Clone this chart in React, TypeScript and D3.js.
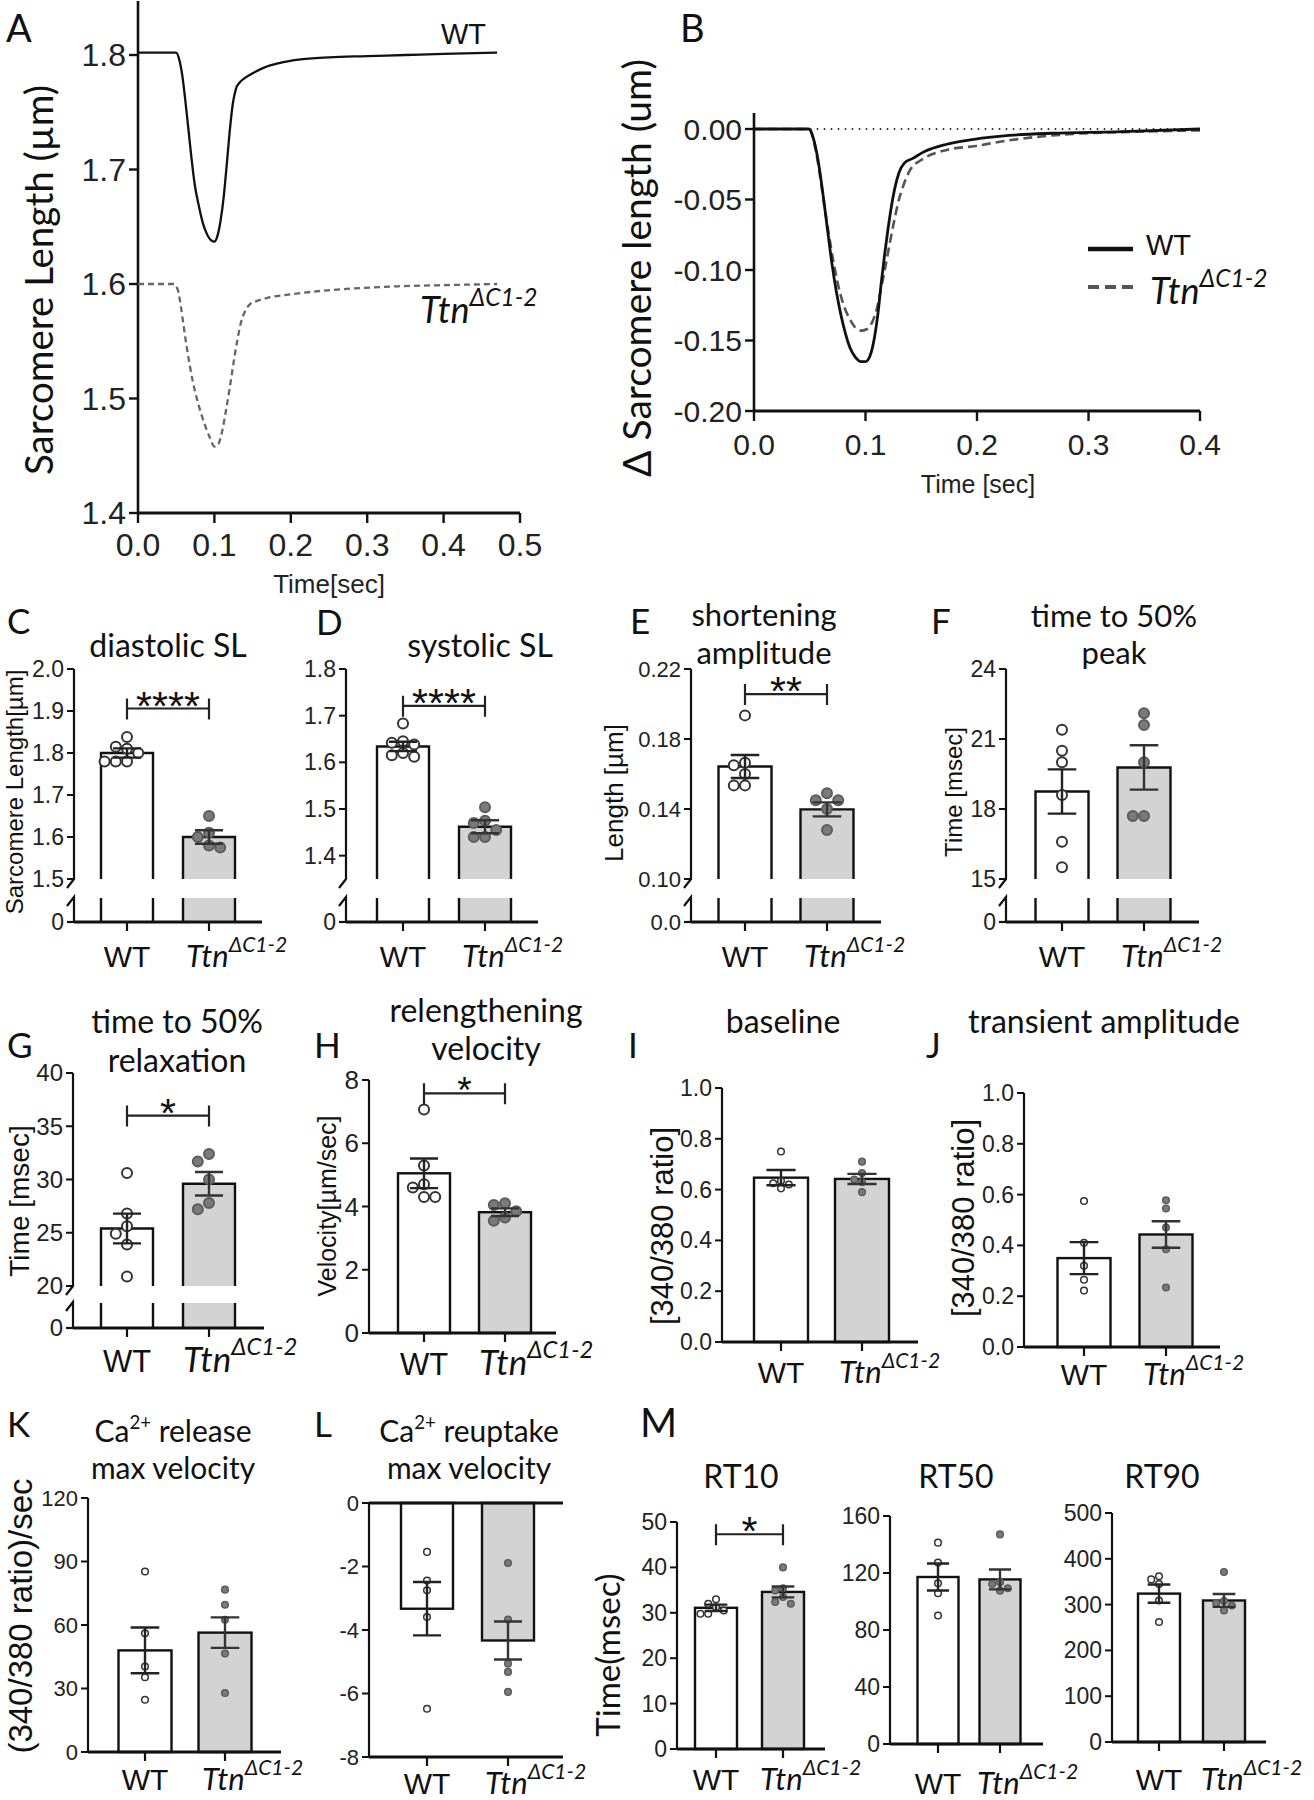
import React from 'react';
import * as d3 from 'd3';

const SANS = "'Liberation Sans', Arial, Helvetica, sans-serif";
const HUM = "Lato, 'Open Sans', 'Noto Sans', sans-serif";
const INK = '#111';

// ---------------- Panel A: sarcomere length traces ----------------
const aTimeWT = [0, 0.05, 0.054, 0.058, 0.062, 0.066, 0.070, 0.074, 0.080, 0.085, 0.090, 0.096, 0.100, 0.104, 0.108, 0.112, 0.116, 0.120, 0.124, 0.128, 0.133, 0.140, 0.150, 0.165, 0.185, 0.210, 0.250, 0.300, 0.350, 0.400, 0.470];
const aSLWT = [1.802, 1.802, 1.796, 1.782, 1.760, 1.735, 1.710, 1.688, 1.667, 1.653, 1.644, 1.638, 1.637, 1.642, 1.655, 1.675, 1.703, 1.733, 1.757, 1.770, 1.776, 1.780, 1.784, 1.789, 1.793, 1.796, 1.798, 1.799, 1.800, 1.801, 1.802];
const aTimeKO = [0, 0.047, 0.052, 0.056, 0.060, 0.064, 0.068, 0.072, 0.077, 0.083, 0.088, 0.094, 0.100, 0.105, 0.110, 0.115, 0.120, 0.125, 0.130, 0.135, 0.140, 0.146, 0.155, 0.170, 0.200, 0.240, 0.280, 0.340, 0.400, 0.470];
const aSLKO = [1.600, 1.600, 1.595, 1.581, 1.562, 1.544, 1.528, 1.514, 1.500, 1.486, 1.476, 1.466, 1.458, 1.460, 1.471, 1.489, 1.509, 1.531, 1.551, 1.567, 1.576, 1.582, 1.585, 1.588, 1.591, 1.594, 1.596, 1.598, 1.599, 1.600];
const aXTicks = [0, 0.1, 0.2, 0.3, 0.4, 0.5];
const aYTicks = [1.4, 1.5, 1.6, 1.7, 1.8];

// ---------------- Panel B: delta sarcomere length ----------------
const bTimeWT = [0, 0.049, 0.053, 0.057, 0.0625, 0.066, 0.070, 0.074, 0.078, 0.082, 0.086, 0.091, 0.096, 0.100, 0.104, 0.108, 0.111, 0.114, 0.117, 0.120, 0.123, 0.126, 0.130, 0.135, 0.142, 0.153, 0.172, 0.191, 0.222, 0.267, 0.324, 0.400];
const bDeltaWT = [0, 0, -0.006, -0.02, -0.05, -0.072, -0.096, -0.116, -0.132, -0.145, -0.155, -0.162, -0.165, -0.165, -0.161, -0.148, -0.132, -0.11, -0.09, -0.072, -0.056, -0.043, -0.031, -0.024, -0.021, -0.016, -0.011, -0.008, -0.005, -0.003, -0.002, 0];
const bTimeKO = [0, 0.05, 0.054, 0.059, 0.063, 0.067, 0.071, 0.075, 0.080, 0.086, 0.091, 0.096, 0.101, 0.106, 0.110, 0.114, 0.118, 0.122, 0.126, 0.130, 0.134, 0.140, 0.150, 0.172, 0.199, 0.229, 0.286, 0.340, 0.400];
const bDeltaKO = [0, 0, -0.01, -0.032, -0.054, -0.074, -0.093, -0.109, -0.124, -0.135, -0.141, -0.143, -0.142, -0.137, -0.128, -0.113, -0.097, -0.080, -0.064, -0.050, -0.040, -0.029, -0.022, -0.015, -0.012, -0.008, -0.0035, -0.002, -0.001];
const bXTicks = [0, 0.1, 0.2, 0.3, 0.4];
const bYTicks = [0, -0.05, -0.1, -0.15, -0.2];

// ---------------- Bar panels (WT, TtnΔC1-2) ----------------
const diastolicMean = [1.80, 1.60];
const diastolicSem = [0.011, 0.016];
const diastolicWT = [1.838, 1.815, 1.81, 1.80, 1.78, 1.78, 1.78];
const diastolicKO = [1.65, 1.61, 1.60, 1.58, 1.575];
const diastolicTicks = [1.5, 1.6, 1.7, 1.8, 1.9, 2.0];

const systolicMean = [1.634, 1.462];
const systolicSem = [0.01, 0.014];
const systolicWT = [1.683, 1.645, 1.642, 1.638, 1.62, 1.615, 1.612];
const systolicKO = [1.504, 1.475, 1.47, 1.455, 1.44, 1.44];
const systolicTicks = [1.4, 1.5, 1.6, 1.7, 1.8];

const shortMean = [0.1643, 0.1398];
const shortSem = [0.0066, 0.004];
const shortWT = [0.1935, 0.1665, 0.165, 0.160, 0.1535, 0.1535];
const shortKO = [0.149, 0.145, 0.145, 0.140, 0.128];
const shortTicks = [0.10, 0.14, 0.18, 0.22];

const peakMean = [18.75, 19.78];
const peakSem = [0.95, 0.95];
const peakWT = [21.4, 20.5, 20.0, 18.6, 16.6, 15.5];
const peakKO = [22.1, 21.6, 20.0, 17.7, 17.7];
const peakTicks = [15, 18, 21, 24];

const relaxMean = [25.4, 29.6];
const relaxSem = [1.4, 1.1];
const relaxWT = [30.6, 26.8, 25.6, 24.9, 23.9, 20.9];
const relaxKO = [32.4, 31.7, 30.0, 27.8, 27.2];
const relaxTicks = [20, 25, 30, 35, 40];

const velMean = [5.05, 3.82];
const velSem = [0.47, 0.12];
const velWT = [7.07, 5.3, 4.7, 4.6, 4.3, 4.3];
const velKO = [4.1, 4.05, 3.85, 3.65, 3.55];
const velTicks = [0, 2, 4, 6, 8];

const baseMean = [0.647, 0.642];
const baseSem = [0.03, 0.02];
const baseWT = [0.75, 0.635, 0.625, 0.62, 0.605];
const baseKO = [0.71, 0.665, 0.64, 0.63, 0.59];
const ratioTicks = [0, 0.2, 0.4, 0.6, 0.8, 1.0];

const ampMean = [0.35, 0.443];
const ampSem = [0.063, 0.052];
const ampWT = [0.575, 0.41, 0.32, 0.265, 0.222];
const ampKO = [0.578, 0.545, 0.47, 0.385, 0.234];

const releaseMean = [48.0, 56.4];
const releaseSem = [10.8, 7.2];
const releaseWT = [85.3, 56.1, 40.4, 35.3, 24.7];
const releaseKO = [76.7, 69.6, 62.5, 46.5, 27.9];
const releaseTicks = [0, 30, 60, 90, 120];

const reuptakeMean = [-3.33, -4.33];
const reuptakeSem = [0.84, 0.6];
const reuptakeWT = [-1.54, -2.44, -2.75, -3.59, -6.48];
const reuptakeKO = [-1.89, -3.67, -5.06, -5.32, -5.95];
const reuptakeTicks = [-8, -6, -4, -2, 0];

const rt10Mean = [31.1, 34.6];
const rt10Sem = [0.7, 1.2];
const rt10WT = [33.0, 32.0, 31.2, 30.5, 29.8, 29.8];
const rt10KO = [40.0, 35.4, 34.9, 33.5, 32.4, 32.0];
const rt10Ticks = [0, 10, 20, 30, 40, 50];

const rt50Mean = [117.2, 115.5];
const rt50Sem = [9.5, 7.0];
const rt50WT = [141.3, 127.3, 112.8, 105.8, 90.2];
const rt50KO = [147.1, 113.5, 112.3, 109.3, 107.6];
const rt50Ticks = [0, 40, 80, 120, 160];

const rt90Mean = [324, 309];
const rt90Sem = [20, 14];
const rt90WT = [362, 355, 345, 309, 262];
const rt90KO = [371, 308, 303, 298, 287];
const rt90Ticks = [0, 100, 200, 300, 400, 500];

// ---------------- helpers ----------------
function KOLabel({ x, y, size, center = true }: any) {
  const x0 = center ? x - 0.74 * size : x;
  return (
    <text x={x0} y={y} fontFamily={HUM} fontStyle="italic" fontSize={size} fill={INK}>
      Ttn<tspan dy={-0.48 * size} fontSize={size * 0.68}>ΔC1-2</tspan>
    </text>
  );
}

function TitleLine({ x, y, s, size }: any) {
  if (s.startsWith('Ca2+')) {
    return (
      <text x={x} y={y} textAnchor="middle" fontFamily={HUM} fontSize={size} fill={INK}>
        Ca<tspan dy={-0.42 * size} fontSize={size * 0.62}>2+</tspan>
        <tspan dy={0.42 * size}>{s.slice(4)}</tspan>
      </text>
    );
  }
  return (
    <text x={x} y={y} textAnchor="middle" fontFamily={HUM} fontSize={size} fill={INK}>{s}</text>
  );
}

function dodge(vals: number[], y: any, cx: number, r: number) {
  const placed: { x: number; y: number }[] = [];
  const step = 2 * r + 1.2;
  const order = [0, -1, 1, -2, 2, -3, 3];
  vals.forEach((v) => {
    const py = y(v);
    let px = cx;
    for (const o of order) {
      const cand = cx + o * step;
      const hit = placed.some((p) => Math.hypot(p.x - cand, p.y - py) < 2 * r + 0.8);
      if (!hit) { px = cand; break; }
    }
    placed.push({ x: px, y: py });
  });
  return placed;
}

const fmt = (dec: number) => (v: number) => (Math.abs(v) < 1e-9 ? 0 : v).toFixed(dec);

function BarPanel({ p }: any) {
  const broken = p.yBrk !== undefined;
  const lo = p.dom[0], hi = p.dom[1];
  const y = d3.scaleLinear().domain(p.dom).range([broken ? p.yBrk : p.yZero, p.yTop]);
  const base = broken ? lo : (lo <= 0 && hi >= 0 ? 0 : lo);
  const fills = ['#ffffff', '#d3d3d3'];
  const sw = 2.4;
  const ax = p.ax;
  const f = fmt(p.dec);
  const els: any[] = [];

  p.c.forEach((cx: number, i: number) => {
    const x0 = cx - p.bw / 2, x1 = cx + p.bw / 2;
    const ym = y(p.mean[i]);
    if (broken) {
      els.push(<rect key={'bf' + i} x={x0} y={ym} width={p.bw} height={p.yBrk - ym} fill={fills[i]} />);
      els.push(<path key={'bo' + i} d={`M${x0},${p.yBrk}V${ym}H${x1}V${p.yBrk}`} fill="none" stroke={INK} strokeWidth={sw} />);
      els.push(<rect key={'lf' + i} x={x0} y={p.yLow} width={p.bw} height={p.yZero - p.yLow} fill={fills[i]} />);
      els.push(<path key={'lo' + i} d={`M${x0},${p.yLow}V${p.yZero}M${x1},${p.yLow}V${p.yZero}`} fill="none" stroke={INK} strokeWidth={sw} />);
    } else {
      const yb = y(base);
      els.push(<rect key={'b' + i} x={x0} y={Math.min(ym, yb)} width={p.bw} height={Math.abs(yb - ym)} fill={fills[i]} stroke={INK} strokeWidth={sw} />);
    }
  });

  p.pts.forEach((vals: number[], i: number) => {
    const pos = dodge(vals, y, p.c[i], p.r);
    pos.forEach((q, j) => {
      els.push(
        <circle key={'p' + i + '_' + j} cx={q.x} cy={q.y} r={p.r}
          fill={i === 0 ? '#fff' : '#7a7a7a'} stroke={i === 0 ? '#333' : '#5c5c5c'}
          strokeWidth={p.r > 4 ? 2 : 1.5} />
      );
    });
  });

  p.c.forEach((cx: number, i: number) => {
    const m = p.mean[i], s = p.sem[i];
    const hw = p.bw * 0.27;
    const col = i === 0 ? '#222' : '#333';
    els.push(
      <path key={'e' + i}
        d={`M${cx},${y(m - s)}V${y(m + s)}M${cx - hw},${y(m + s)}H${cx + hw}M${cx - hw},${y(m - s)}H${cx + hw}`}
        fill="none" stroke={col} strokeWidth={2.4} />
    );
  });

  if (broken) {
    els.push(<path key="ya" d={`M${ax},${p.yTop}V${p.yBrk}L${ax - 7},${p.yBrk + 9}`} fill="none" stroke={INK} strokeWidth={2.2} />);
    els.push(<path key="yb" d={`M${ax - 7},${p.yLow + 8}L${ax},${p.yLow - 1}V${p.yZero}`} fill="none" stroke={INK} strokeWidth={2.2} />);
    els.push(<line key="z0" x1={ax - 7} x2={ax} y1={p.yZero} y2={p.yZero} stroke={INK} strokeWidth={2.2} />);
    els.push(<text key="zl" x={ax - 10} y={p.yZero} dy="0.35em" textAnchor="end" fontFamily={SANS} fontSize={p.tickSize} fill="#222">{p.lowLab}</text>);
  } else {
    els.push(<line key="ya" x1={ax} x2={ax} y1={p.yTop} y2={p.yZero} stroke={INK} strokeWidth={2.2} />);
  }
  p.ticks.forEach((t: number) => {
    els.push(<line key={'t' + t} x1={ax - 7} x2={ax} y1={y(t)} y2={y(t)} stroke={INK} strokeWidth={2} />);
    els.push(<text key={'tl' + t} x={ax - 10} y={y(t)} dy="0.35em" textAnchor="end" fontFamily={SANS} fontSize={p.tickSize} fill="#222">{f(t)}</text>);
  });

  els.push(<line key="xa" x1={ax} x2={p.end} y1={p.yZero} y2={p.yZero} stroke={INK} strokeWidth={2.8} />);
  if (hi === 0) {
    els.push(<line key="x0" x1={ax} x2={p.end} y1={y(0)} y2={y(0)} stroke={INK} strokeWidth={2.8} />);
  }
  p.c.forEach((cx: number, i: number) => {
    els.push(<line key={'xt' + i} x1={cx} x2={cx} y1={p.yZero} y2={p.yZero + 9} stroke={INK} strokeWidth={2.2} />);
  });

  if (p.sig) {
    const yl = y(p.sig.v);
    const [c1, c2] = p.c;
    const ss = p.sig.size || 41;
    els.push(<path key="sg" d={`M${c1},${yl - 10}V${yl + 11}M${c1},${yl}H${c2}M${c2},${yl - 10}V${yl + 11}`} fill="none" stroke="#222" strokeWidth={2.2} />);
    els.push(<text key="st" x={(c1 + c2) / 2} y={yl + ss * 0.27} textAnchor="middle" fontFamily={SANS} fontSize={ss} fill={INK}>{p.sig.t}</text>);
  }

  els.push(<text key="wt" x={p.c[0]} y={p.labY} textAnchor="middle" fontFamily={SANS} fontSize={p.wtSize} fill={INK}>WT</text>);
  els.push(<KOLabel key="ko" x={p.c[1]} y={p.labY} size={p.koSize} />);

  if (p.letter) {
    els.push(<text key="L" x={p.lx} y={p.ly} fontFamily={HUM} fontSize={p.letterSize || 35} fill={INK}>{p.letter}</text>);
  }
  p.title.forEach((s: string, i: number) => {
    els.push(<TitleLine key={'ti' + i} x={p.tx} y={p.ty[i]} s={s} size={p.titleSize || 32} />);
  });
  if (p.ylab) {
    els.push(
      <text key="yl" transform={`translate(${p.ylx},${p.yly}) rotate(-90)`} textAnchor="middle" dy="0.35em"
        fontFamily={p.ylfont || SANS} fontSize={p.ylsize} fill={INK}>{p.ylab}</text>
    );
  }
  return <g>{els}</g>;
}

const ROW2 = { yTop: 669, yBrk: 879, yLow: 898, yZero: 922, labY: 967 };

const barPanels: any[] = [
  { letter: 'C', lx: 7, ly: 634, title: ['diastolic SL'], tx: 168, ty: [657],
    ylab: 'Sarcomere Length[µm]', ylx: 15, yly: 792, ylsize: 24,
    ax: 74, end: 262, c: [127, 209], bw: 52, ...ROW2, dom: [1.5, 2.0], ticks: diastolicTicks, dec: 1, lowLab: '0',
    mean: diastolicMean, sem: diastolicSem, pts: [diastolicWT, diastolicKO], r: 5, sig: { v: 1.906, t: '****' },
    wtSize: 30, koSize: 31, tickSize: 23 },
  { letter: 'D', lx: 316, ly: 635, title: ['systolic SL'], tx: 480, ty: [657],
    ax: 346, end: 538, c: [403, 485], bw: 52, ...ROW2, dom: [1.35, 1.8], ticks: systolicTicks, dec: 1, lowLab: '0',
    mean: systolicMean, sem: systolicSem, pts: [systolicWT, systolicKO], r: 5, sig: { v: 1.721, t: '****' },
    wtSize: 30, koSize: 31, tickSize: 23 },
  { letter: 'E', lx: 630, ly: 634, title: ['shortening', 'amplitude'], titleSize: 31, tx: 764, ty: [626, 664],
    ylab: 'Length [µm]', ylx: 614, yly: 793, ylsize: 26,
    ax: 691, end: 881, c: [745, 827], bw: 53, ...ROW2, dom: [0.10, 0.22], ticks: shortTicks, dec: 2, lowLab: '0.0',
    mean: shortMean, sem: shortSem, pts: [shortWT, shortKO], r: 5, sig: { v: 0.2057, t: '**' },
    wtSize: 30, koSize: 31, tickSize: 22 },
  { letter: 'F', lx: 931, ly: 634, title: ['time to 50%', 'peak'], titleSize: 31, tx: 1114, ty: [627, 664],
    ylab: 'Time [msec]', ylx: 954, yly: 792, ylsize: 24,
    ax: 1006, end: 1199, c: [1062, 1144], bw: 53, ...ROW2, dom: [15, 24], ticks: peakTicks, dec: 0, lowLab: '0',
    mean: peakMean, sem: peakSem, pts: [peakWT, peakKO], r: 5,
    wtSize: 30, koSize: 31, tickSize: 23 },
  { letter: 'G', lx: 7, ly: 1058, title: ['time to 50%', 'relaxation'], tx: 177, ty: [1033, 1072],
    ylab: 'Time [msec]', ylx: 19, yly: 1201, ylsize: 28,
    ax: 73, end: 264, c: [127, 209], bw: 52, yTop: 1073, yBrk: 1286, yLow: 1303, yZero: 1328, labY: 1372,
    dom: [20, 40], ticks: relaxTicks, dec: 0, lowLab: '0',
    mean: relaxMean, sem: relaxSem, pts: [relaxWT, relaxKO], r: 5, sig: { v: 36.0, t: '*' },
    wtSize: 31, koSize: 35, tickSize: 24 },
  { letter: 'H', lx: 314, ly: 1058, title: ['relengthening', 'velocity'], tx: 486, ty: [1022, 1060],
    ylab: 'Velocity[µm/sec]', ylx: 327, yly: 1206, ylsize: 25,
    ax: 369, end: 556, c: [424, 505], bw: 52, yTop: 1080, yZero: 1333, labY: 1375,
    dom: [0, 8], ticks: velTicks, dec: 0,
    mean: velMean, sem: velSem, pts: [velWT, velKO], r: 5, sig: { v: 7.58, t: '*', size: 37 },
    wtSize: 31, koSize: 35, tickSize: 26 },
  { letter: 'I', lx: 628, ly: 1058, title: ['baseline'], tx: 783, ty: [1033],
    ylab: '[340/380 ratio]', ylx: 662, yly: 1226, ylsize: 31,
    ax: 722, end: 918, c: [781, 862], bw: 54, yTop: 1088, yZero: 1342, labY: 1383,
    dom: [0, 1], ticks: ratioTicks, dec: 1,
    mean: baseMean, sem: baseSem, pts: [baseWT, baseKO], r: 3.3,
    wtSize: 30, koSize: 31, tickSize: 23 },
  { letter: 'J', lx: 926, ly: 1058, title: ['transient amplitude'], tx: 1104, ty: [1033],
    ylab: '[340/380 ratio]', ylx: 963, yly: 1218, ylsize: 31,
    ax: 1024, end: 1220, c: [1084, 1166], bw: 53, yTop: 1093, yZero: 1347, labY: 1385,
    dom: [0, 1], ticks: ratioTicks, dec: 1,
    mean: ampMean, sem: ampSem, pts: [ampWT, ampKO], r: 3.3,
    wtSize: 30, koSize: 31, tickSize: 23 },
  { letter: 'K', lx: 7, ly: 1437, title: ['Ca2+ release', 'max velocity'], titleSize: 30, tx: 173, ty: [1442, 1479],
    ylab: '(340/380 ratio)/sec', ylx: 20, yly: 1616, ylsize: 33,
    ax: 88, end: 281, c: [145, 225], bw: 53, yTop: 1498, yZero: 1752, labY: 1790,
    dom: [0, 120], ticks: releaseTicks, dec: 0,
    mean: releaseMean, sem: releaseSem, pts: [releaseWT, releaseKO], r: 3.3,
    wtSize: 30, koSize: 31, tickSize: 22 },
  { letter: 'L', lx: 314, ly: 1437, title: ['Ca2+ reuptake', 'max velocity'], titleSize: 30, tx: 469, ty: [1442, 1479],
    ax: 369, end: 563, c: [427, 508], bw: 52, yTop: 1503, yZero: 1757, labY: 1794,
    dom: [-8, 0], ticks: reuptakeTicks, dec: 0,
    mean: reuptakeMean, sem: reuptakeSem, pts: [reuptakeWT, reuptakeKO], r: 3.3,
    wtSize: 30, koSize: 31, tickSize: 22 },
  { letter: 'M', lx: 640, ly: 1437, letterSize: 40, title: ['RT10'], tx: 741, ty: [1488],
    ylab: 'Time(msec)', ylx: 608, yly: 1655, ylsize: 33, ylfont: HUM,
    ax: 677, end: 825, c: [716, 783], bw: 42, yTop: 1522, yZero: 1749, labY: 1790,
    dom: [0, 50], ticks: rt10Ticks, dec: 0,
    mean: rt10Mean, sem: rt10Sem, pts: [rt10WT, rt10KO], r: 3.3, sig: { v: 47.3, t: '*' },
    wtSize: 30, koSize: 31, tickSize: 23 },
  { title: ['RT50'], tx: 956, ty: [1488],
    ax: 890, end: 1043, c: [938, 1000], bw: 41, yTop: 1516, yZero: 1744, labY: 1794,
    dom: [0, 160], ticks: rt50Ticks, dec: 0,
    mean: rt50Mean, sem: rt50Sem, pts: [rt50WT, rt50KO], r: 3.3,
    wtSize: 30, koSize: 31, tickSize: 23 },
  { title: ['RT90'], tx: 1162, ty: [1488],
    ax: 1112, end: 1266, c: [1159, 1224], bw: 42, yTop: 1513, yZero: 1742, labY: 1790,
    dom: [0, 500], ticks: rt90Ticks, dec: 0,
    mean: rt90Mean, sem: rt90Sem, pts: [rt90WT, rt90KO], r: 3.3,
    wtSize: 30, koSize: 31, tickSize: 23 },
];

function PanelA() {
  const x = d3.scaleLinear().domain([0, 0.5]).range([138, 520]);
  const y = d3.scaleLinear().domain([1.4, 1.8]).range([513, 55]);
  const line = d3.line<[number, number]>().x((d) => x(d[0])).y((d) => y(d[1])).curve(d3.curveMonotoneX);
  const wt = line(d3.zip(aTimeWT, aSLWT) as any);
  const ko = line(d3.zip(aTimeKO, aSLKO) as any);
  return (
    <g>
      <text x={6} y={42} fontFamily={HUM} fontSize={38} fill={INK}>A</text>
      <line x1={x(0)} x2={x(0)} y1={1} y2={y(1.4)} stroke={INK} strokeWidth={2.6} />
      <line x1={x(0)} x2={x(0.5)} y1={y(1.4)} y2={y(1.4)} stroke={INK} strokeWidth={3} />
      {aYTicks.map((t) => (
        <g key={'ay' + t}>
          <line x1={x(0) - 9} x2={x(0)} y1={y(t)} y2={y(t)} stroke={INK} strokeWidth={2.4} />
          <text x={x(0) - 12} y={y(t)} dy="0.35em" textAnchor="end" fontFamily={SANS} fontSize={32} fill="#222">{t.toFixed(1)}</text>
        </g>
      ))}
      {aXTicks.map((t) => (
        <g key={'ax' + t}>
          <line x1={x(t)} x2={x(t)} y1={y(1.4)} y2={y(1.4) + 10} stroke={INK} strokeWidth={2.4} />
          <text x={x(t)} y={556} textAnchor="middle" fontFamily={SANS} fontSize={32} fill="#222">{t.toFixed(1)}</text>
        </g>
      ))}
      <text x={329} y={593} textAnchor="middle" fontFamily={SANS} fontSize={26} fill="#222">Time[sec]</text>
      <text transform="translate(40,280) rotate(-90)" textAnchor="middle" dy="0.35em" fontFamily={HUM} fontSize={38.5} fill={INK}>Sarcomere Length (µm)</text>
      <path d={wt || ''} fill="none" stroke={INK} strokeWidth={2.3} />
      <path d={ko || ''} fill="none" stroke="#666" strokeWidth={2.3} strokeDasharray="6,4" />
      <text x={441} y={44} fontFamily={SANS} fontSize={29} fill={INK}>WT</text>
      <KOLabel x={420} y={323} size={36} center={false} />
    </g>
  );
}

function PanelB() {
  const x = d3.scaleLinear().domain([0, 0.4]).range([754, 1200]);
  const y = d3.scaleLinear().domain([-0.2, 0]).range([411, 129]);
  const line = d3.line<[number, number]>().x((d) => x(d[0])).y((d) => y(d[1])).curve(d3.curveMonotoneX);
  const wt = line(d3.zip(bTimeWT, bDeltaWT) as any);
  const ko = line(d3.zip(bTimeKO, bDeltaKO) as any);
  return (
    <g>
      <text x={680} y={42} fontFamily={HUM} fontSize={38} fill={INK}>B</text>
      <line x1={x(0.05)} x2={x(0.4)} y1={y(0)} y2={y(0)} stroke="#333" strokeWidth={1.8} strokeDasharray="1.5,5.5" />
      <line x1={x(0)} x2={x(0)} y1={113} y2={y(-0.2)} stroke={INK} strokeWidth={2.6} />
      <line x1={x(0)} x2={x(0.4)} y1={y(-0.2)} y2={y(-0.2)} stroke={INK} strokeWidth={3} />
      {bYTicks.map((t) => (
        <g key={'by' + t}>
          <line x1={x(0) - 9} x2={x(0)} y1={y(t)} y2={y(t)} stroke={INK} strokeWidth={2.4} />
          <text x={x(0) - 12} y={y(t)} dy="0.35em" textAnchor="end" fontFamily={SANS} fontSize={30} fill="#222">{fmt(2)(t)}</text>
        </g>
      ))}
      {bXTicks.map((t) => (
        <g key={'bx' + t}>
          <line x1={x(t)} x2={x(t)} y1={y(-0.2)} y2={y(-0.2) + 10} stroke={INK} strokeWidth={2.4} />
          <text x={x(t)} y={455} textAnchor="middle" fontFamily={SANS} fontSize={30} fill="#222">{t.toFixed(1)}</text>
        </g>
      ))}
      <text x={978} y={493} textAnchor="middle" fontFamily={SANS} fontSize={25} fill="#222">Time [sec]</text>
      <text transform="translate(637,268) rotate(-90)" textAnchor="middle" dy="0.35em" fontFamily={HUM} fontSize={39} fill={INK}>Δ Sarcomere length (um)</text>
      <path d={ko || ''} fill="none" stroke="#555" strokeWidth={2.6} strokeDasharray="9,5" />
      <path d={wt || ''} fill="none" stroke={INK} strokeWidth={2.8} />
      <line x1={1088} x2={1133} y1={249} y2={249} stroke={INK} strokeWidth={4.5} />
      <text x={1146} y={255} fontFamily={SANS} fontSize={29} fill={INK}>WT</text>
      <line x1={1088} x2={1133} y1={287} y2={287} stroke="#555" strokeWidth={4} strokeDasharray="11,6" />
      <KOLabel x={1150} y={304} size={36} center={false} />
    </g>
  );
}

export default function App() {
  return (
    <svg width={1314} height={1800} viewBox="0 0 1314 1800"
      style={{ position: 'absolute', left: 0, top: 0, background: '#fff' }}>
      <rect x={0} y={0} width={1314} height={1800} fill="#fff" />
      <PanelA />
      <PanelB />
      {barPanels.map((p, i) => <BarPanel key={i} p={p} />)}
    </svg>
  );
}
